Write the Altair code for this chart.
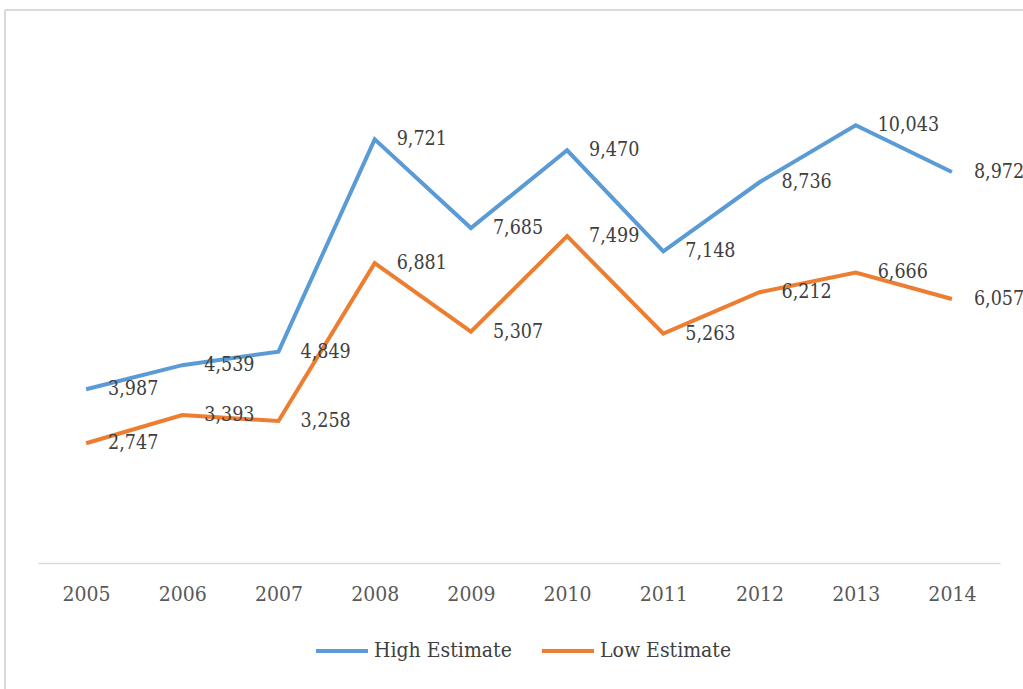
import altair as alt
import pandas as pd

years = ["2005", "2006", "2007", "2008", "2009", "2010", "2011", "2012", "2013", "2014"]
high = [3987, 4539, 4849, 9721, 7685, 9470, 7148, 8736, 10043, 8972]
low = [2747, 3393, 3258, 6881, 5307, 7499, 5263, 6212, 6666, 6057]
series = ["High Estimate", "Low Estimate"]
colors = ["#5B9BD5", "#ED7D31"]

rows = []
for y, h, l in zip(years, high, low):
    rows.append({"year": y, "value": h, "series": series[0]})
    rows.append({"year": y, "value": l, "series": series[1]})
df = pd.DataFrame(rows)

FONT = "DejaVu Serif Condensed"

x = alt.X("year:O", title=None, sort=years,
          scale=alt.Scale(type="point", padding=0.5),
          axis=alt.Axis(labelAngle=0, ticks=False, domainColor="#D9D9D9", domainWidth=1.5,
                        labelColor="#595959", labelFont=FONT, labelFontSize=21,
                        labelPadding=20, grid=False))
y = alt.Y("value:Q", title=None, scale=alt.Scale(domain=[0, 12000], nice=False), axis=None)
color = alt.Color("series:N", sort=series,
                  scale=alt.Scale(domain=series, range=colors),
                  legend=alt.Legend(title=None, orient="none", legendX=276, legendY=583,
                                    direction="horizontal", symbolType="stroke",
                                    symbolSize=2704, symbolStrokeWidth=4,
                                    labelFont=FONT, labelFontSize=21, labelColor="#404040",
                                    columnPadding=22, labelOffset=4))

base = alt.Chart(df)
lines = base.mark_line(strokeWidth=4).encode(x=x, y=y, color=color)
labels = base.mark_text(align="left", baseline="middle", dx=22, font=FONT, fontSize=19.5,
                        color="#404040").encode(
    x=x, y=y, text=alt.Text("value:Q", format=","))

border_top = alt.Chart(pd.DataFrame({"a": [0]})).mark_rule(color="#D9D9D9", strokeWidth=2).encode(
    x=alt.value(-33), x2=alt.value(1100), y=alt.value(-30))
border_left = alt.Chart(pd.DataFrame({"a": [0]})).mark_rule(color="#D9D9D9", strokeWidth=2).encode(
    x=alt.value(-33), y=alt.value(-30), y2=alt.value(700))

chart = alt.layer(border_top, border_left, lines, labels).properties(
    width=962, height=523,
    autosize=alt.AutoSizeParams(type="none"),
    padding={"left": 38, "top": 40, "right": 23, "bottom": 126},
    background="white",
).configure_view(stroke=None)

chart.save("out.html", embed_options={"renderer": "svg", "actions": False})
